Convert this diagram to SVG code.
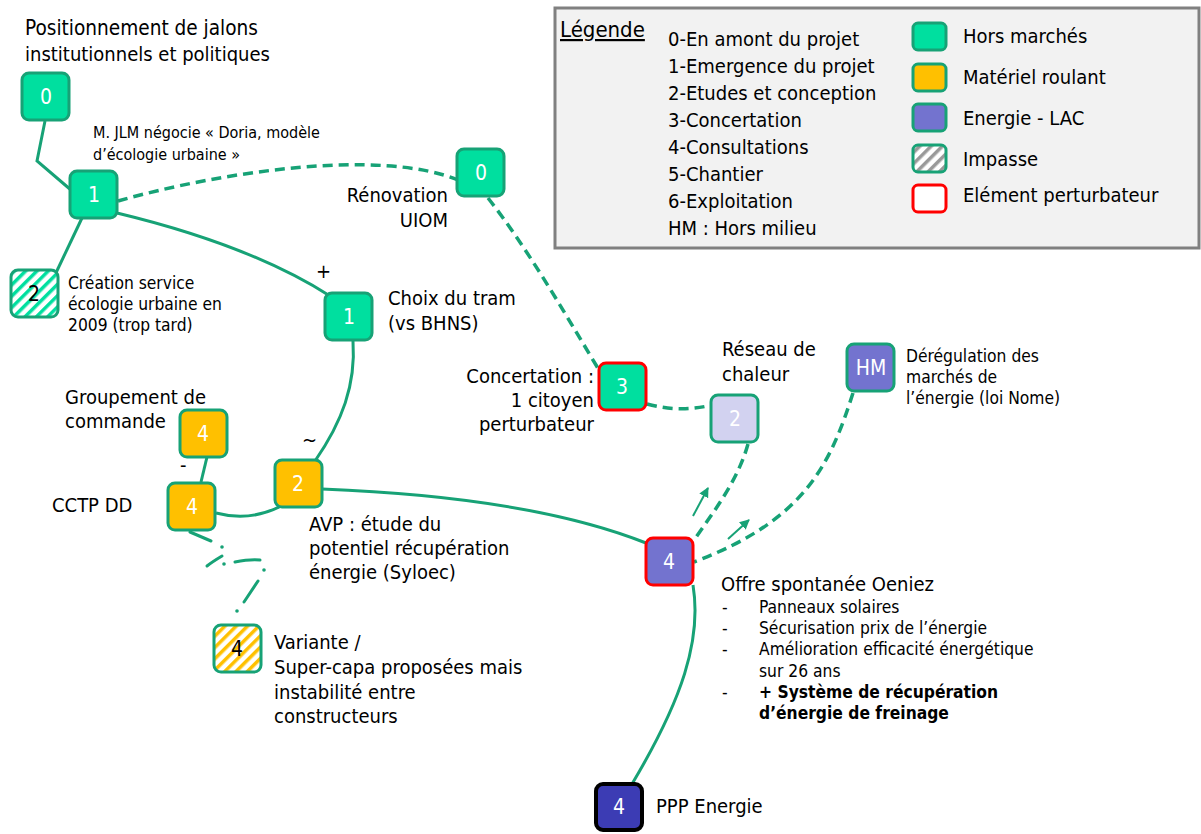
<svg xmlns="http://www.w3.org/2000/svg" width="1201" height="834" viewBox="0 0 1201 834">
<defs>
<style>
text{font-family:"DejaVu Sans Condensed","DejaVu Sans",sans-serif;fill:#000;}
.t{font-size:20px;}
.s{font-size:17.3px;}
.num{font-size:21px;fill:#fff;text-anchor:middle;}
.numk{font-size:21px;fill:#000;text-anchor:middle;}
.g{fill:#00df9f;stroke:#17a276;stroke-width:3;}
.o{fill:#ffc000;stroke:#17a276;stroke-width:3;}
.p{fill:#7373cf;stroke:#17a276;stroke-width:3;}
.lp{fill:#d2d2f0;stroke:#17a276;stroke-width:3;}
.red{stroke:#ff0000;}
.c{fill:none;stroke:#17a276;stroke-width:3;}
.d{fill:none;stroke:#17a276;stroke-width:3.5;stroke-dasharray:10 6;}
</style>
<pattern id="hg" patternUnits="userSpaceOnUse" width="8" height="8" patternTransform="rotate(45)">
<rect width="8" height="8" fill="#fff"/><rect width="3.5" height="8" fill="#00df9f"/>
</pattern>
<pattern id="ho" patternUnits="userSpaceOnUse" width="8" height="8" patternTransform="rotate(45)">
<rect width="8" height="8" fill="#fff"/><rect width="3.5" height="8" fill="#ffc000"/>
</pattern>
<pattern id="hk" patternUnits="userSpaceOnUse" width="8" height="8" patternTransform="rotate(45)">
<rect width="8" height="8" fill="#fff"/><rect width="3.5" height="8" fill="#999"/>
</pattern>
<marker id="ah" viewBox="0 0 10 10" refX="9" refY="5" markerWidth="5" markerHeight="5" orient="auto">
<path d="M0,0 L10,5 L0,10 z" fill="#17a276"/>
</marker>
</defs>

<g id="legend">
<rect x="555" y="8" width="644" height="240" fill="#f2f2f2" stroke="#808080" stroke-width="3"/>
<text x="560" y="37" style="font-size:22px;text-decoration:underline">Légende</text>
<text class="t" x="668" y="46">0-En amont du projet</text>
<text class="t" x="668" y="73">1-Emergence du projet</text>
<text class="t" x="668" y="100">2-Etudes et conception</text>
<text class="t" x="668" y="127">3-Concertation</text>
<text class="t" x="668" y="154">4-Consultations</text>
<text class="t" x="668" y="181">5-Chantier</text>
<text class="t" x="668" y="208">6-Exploitation</text>
<text class="t" x="668" y="235">HM : Hors milieu</text>
<rect x="913" y="23" width="33" height="27" rx="5" class="g"/>
<rect x="913" y="64" width="33" height="27" rx="5" class="o"/>
<rect x="913" y="104" width="33" height="27" rx="5" class="p"/>
<rect x="913" y="145" width="33" height="27" rx="5" fill="url(#hk)" stroke="#17a276" stroke-width="3"/>
<rect x="913" y="185" width="33" height="27" rx="5" fill="#fff" stroke="#ff0000" stroke-width="3"/>
<text class="t" x="963" y="43">Hors marchés</text>
<text class="t" x="963" y="84">Matériel roulant</text>
<text class="t" x="963" y="125">Energie - LAC</text>
<text class="t" x="963" y="166">Impasse</text>
<text class="t" x="963" y="202">Elément perturbateur</text>
</g>

<g id="connectors">
<path class="c" d="M45,121 L37,161 L71,190"/>
<path class="c" d="M82,218 L54,277"/>
<path class="c" d="M117,213 Q250,245 330,296"/>
<path class="d" d="M118,201 C220,172 380,148 458,180"/>
<path class="d" d="M488,198 C525,245 560,305 599,370"/>
<path class="c" d="M353,341 C356,385 342,422 315,461"/>
<path class="d" d="M647,404 Q680,413 712,405"/>
<path class="d" d="M748,444 C738,480 715,510 694,540"/>
<path class="d" d="M853,393 C830,465 805,520 694,562"/>
<path class="c" d="M322,489 Q530,497 646,543"/>
<path class="c" d="M281,506 Q250,522 216,513"/>
<path class="c" d="M207,457 L201,482"/>
<path class="c" d="M693,585 C702,640 682,700 632,784"/>
<line x1="693" y1="516" x2="708" y2="488" stroke="#17a276" stroke-width="2" marker-end="url(#ah)"/>
<line x1="728" y1="539" x2="749" y2="520" stroke="#17a276" stroke-width="2" marker-end="url(#ah)"/>
<g stroke="#17a276" stroke-width="3" fill="none" stroke-linecap="round">
<path d="M190,532 L211,541"/>
<path d="M222,556 Q212,562 207,566"/>
<path d="M235,562 Q250,559 260,560"/>
<path d="M258,581 L244,602"/>
</g>
<g fill="#17a276">
<circle cx="222" cy="547" r="1.8"/>
<circle cx="224" cy="564" r="1.8"/>
<circle cx="264" cy="570" r="1.8"/>
<circle cx="237" cy="611" r="1.8"/>
</g>
</g>

<g id="n0a"><rect x="22" y="73" width="47" height="47" rx="7" class="g"/><text class="num" x="46" y="104">0</text></g>
<text class="t" x="25" y="35" style="font-size:20.6px">Positionnement de jalons</text>
<text class="t" x="25" y="61">institutionnels et politiques</text>

<g id="n1a"><rect x="70" y="171" width="47" height="47" rx="7" class="g"/><text class="num" x="94" y="202">1</text></g>
<text class="s" x="93" y="138" style="font-size:16px">M. JLM négocie « Doria, modèle</text>
<text class="s" x="93" y="160" style="font-size:16px">d’écologie urbaine »</text>

<g id="n2a"><rect x="11" y="270" width="47" height="47" rx="7" fill="url(#hg)" stroke="#17a276" stroke-width="3"/><text class="numk" x="34" y="301">2</text></g>
<text class="s" x="68" y="289">Création service</text>
<text class="s" x="68" y="310">écologie urbaine en</text>
<text class="s" x="68" y="331">2009 (trop tard)</text>

<g id="n0b"><rect x="457" y="149" width="47" height="47" rx="7" class="g"/><text class="num" x="481" y="180">0</text></g>
<text class="t" x="448" y="202" text-anchor="end">Rénovation</text>
<text class="t" x="448" y="227" text-anchor="end">UIOM</text>

<g id="n1b"><rect x="325" y="293" width="47" height="47" rx="7" class="g"/><text class="num" x="349" y="324">1</text></g>
<text class="t" x="388" y="305">Choix du tram</text>
<text class="t" x="388" y="330">(vs BHNS)</text>
<text class="t" x="316" y="278">+</text>

<g id="n3"><rect x="599" y="363" width="47" height="47" rx="7" class="g red"/><text class="num" x="622" y="394">3</text></g>
<text class="t" x="594" y="383" text-anchor="end">Concertation :</text>
<text class="t" x="594" y="407" text-anchor="end">1 citoyen</text>
<text class="t" x="594" y="431" text-anchor="end">perturbateur</text>

<g id="n2b"><rect x="711" y="395" width="47" height="47" rx="7" class="lp"/><text class="num" x="735" y="426">2</text></g>
<text class="t" x="722" y="356">Réseau de</text>
<text class="t" x="722" y="381">chaleur</text>

<g id="nhm"><rect x="847" y="344" width="47" height="47" rx="7" class="p"/><text class="num" x="871" y="375">HM</text></g>
<text class="s" x="906" y="362">Dérégulation des</text>
<text class="s" x="906" y="383">marchés de</text>
<text class="s" x="906" y="404">l’énergie (loi Nome)</text>

<g id="n4a"><rect x="180" y="410" width="47" height="47" rx="7" class="o"/><text class="num" x="203" y="441">4</text></g>
<text class="t" x="65" y="404">Groupement de</text>
<text class="t" x="65" y="428">commande</text>
<text class="t" x="180" y="472">-</text>

<g id="n4b"><rect x="168" y="483" width="47" height="47" rx="7" class="o"/><text class="num" x="192" y="514">4</text></g>
<text class="t" x="52" y="512">CCTP DD</text>

<g id="n2c"><rect x="275" y="460" width="47" height="47" rx="7" class="o"/><text class="num" x="298" y="491">2</text></g>
<text class="t" x="302" y="447">~</text>
<text class="t" x="309" y="531">AVP : étude du</text>
<text class="t" x="309" y="555">potentiel récupération</text>
<text class="t" x="309" y="579">énergie (Syloec)</text>

<g id="n4c"><rect x="646" y="538" width="47" height="47" rx="7" class="p red"/><text class="num" x="669" y="569">4</text></g>
<text class="t" x="721" y="591">Offre spontanée Oeniez</text>
<g>
<text class="s" x="722" y="613">-</text><text class="s" x="759" y="613">Panneaux solaires</text>
<text class="s" x="722" y="634">-</text><text class="s" x="759" y="634">Sécurisation prix de l’énergie</text>
<text class="s" x="722" y="655">-</text><text class="s" x="759" y="655">Amélioration efficacité énergétique</text>
<text class="s" x="759" y="677">sur 26 ans</text>
<text class="s" x="722" y="698">-</text><text class="s" x="759" y="698" font-weight="bold">+ Système de récupération</text>
<text class="s" x="759" y="719" font-weight="bold">d’énergie de freinage</text>
</g>

<g id="n4d"><rect x="214" y="625" width="47" height="47" rx="7" fill="url(#ho)" stroke="#17a276" stroke-width="3"/><text class="numk" x="237" y="656">4</text></g>
<text class="t" x="274" y="649">Variante /</text>
<text class="t" x="274" y="674">Super-capa proposées mais</text>
<text class="t" x="274" y="699">instabilité entre</text>
<text class="t" x="274" y="723">constructeurs</text>

<g id="n4e"><rect x="596" y="784" width="46" height="46" rx="7" fill="#3c3cb4" stroke="#000" stroke-width="4"/><text class="num" x="619" y="814">4</text></g>
<text class="t" x="656" y="813">PPP Energie</text>
</svg>
